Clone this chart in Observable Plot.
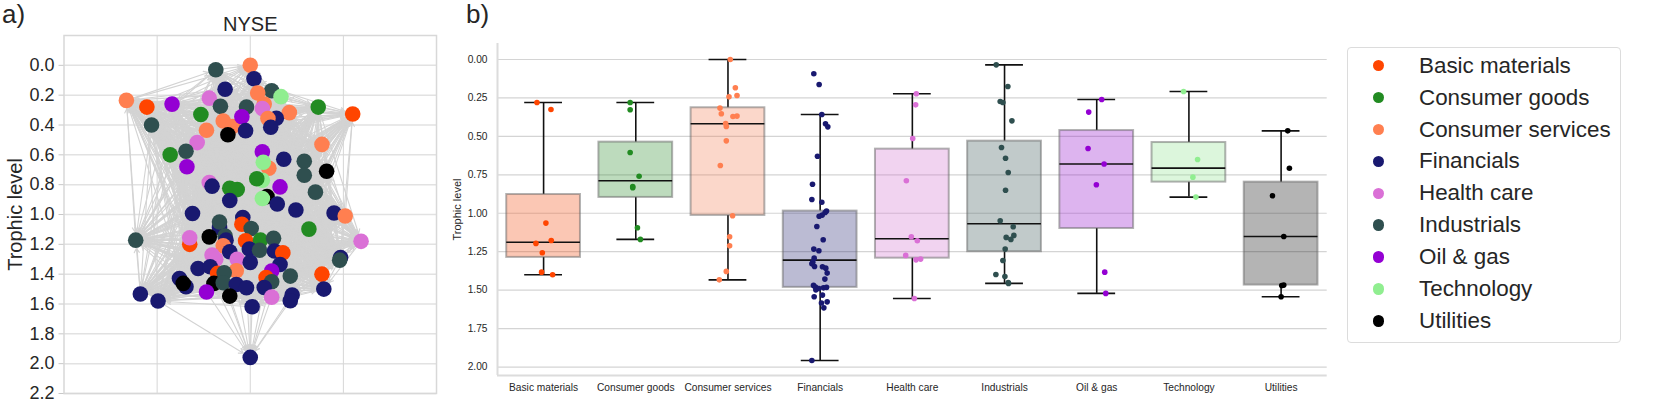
<!DOCTYPE html>
<html>
<head>
<meta charset="utf-8">
<script src="https://cdn.jsdelivr.net/npm/d3@7"></script>
<script src="https://cdn.jsdelivr.net/npm/@observablehq/plot@0.6"></script>
<style>
html,body{margin:0;padding:0;background:#fff;}
#page{position:relative;width:1659px;height:418px;overflow:hidden;font-family:"Liberation Sans",Arial,sans-serif;color:#262626;}
.panel{position:absolute;top:0;}
.tag{position:absolute;top:0px;font-size:26px;line-height:28px;}
#legend{position:absolute;left:1346.5px;top:47px;width:272px;height:293.5px;border:1px solid #dcdcdc;border-radius:4px;box-sizing:content-box;}
.row{position:absolute;left:0;height:32px;line-height:32px;font-size:22.4px;white-space:nowrap;}
.sw{position:absolute;left:25.5px;top:10.3px;width:11.4px;height:11.4px;border-radius:50%;}
.row span{position:absolute;left:71.5px;}
</style>
</head>
<body>
<div id="page">
  <div class="tag" style="left:2px">a)</div>
  <div class="tag" style="left:466px">b)</div>
  <div class="panel" id="left" style="left:0"></div>
  <div class="panel" id="right" style="left:445px"></div>
  <div id="legend"></div>
</div>
<script>
const sectors = ["Basic materials","Consumer goods","Consumer services","Financials","Health care","Industrials","Oil & gas","Technology","Utilities"];
const sectorColors = ["#FF4500","#228B22","#FF7F50","#191970","#DA70D6","#2F4F4F","#9400D3","#90EE90","#000000"];

// network panel: one entry per company, drawn in this order
const netSector = [2,5,3,3,5,2,7,2,0,6,4,5,5,2,4,2,1,0,1,5,2,2,6,3,2,3,3,2,8,4,5,1,6,2,6,3,5,5,8,2,7,7,1,4,3,1,1,6,5,8,7,3,3,3,3,2,
  3,3,0,3,5,5,1,5,4,0,4,8,5,3,2,0,1,5,3,5,3,0,3,4,4,4,3,3,3,5,2,3,3,0,5,6,0,5,0,5,3,3,8,8,5,3,3,3,3,3,3,6,8,4,3,3,3,3];
const netX = [0,-.37,.04,-.27,.23,.08,.33,-1.33,-1.11,-.84,-.44,-.32,-.04,.15,.13,.42,.73,1.10,-.53,-1.06,-.29,-.19,-.09,.28,.19,.22,-.05,-.47,-.24,-.57,-.69,-.86,-.68,.77,.13,.36,.58,.58,.82,.2,.14,.13,.07,-.44,-.41,-.22,-.14,.32,.70,.18,.13,-.22,.29,.49,.9,1.02,
  -.62,-.08,-.09,-.33,-.33,.01,.63,-1.23,1.19,-.65,-.65,-.44,-.27,-.26,-.29,-.05,.11,.25,-.01,.1,.26,.35,-.22,-.41,-.37,-.14,0,.32,.97,.96,-.15,-.56,-.43,-.35,-.28,.23,.77,.43,.17,.23,-.76,-.69,-.72,-.39,-.29,-.15,-.04,.15,.79,-1.18,-.99,-.47,-.22,.23,.45,.43,.02,0];
const netY = [0,.03,.09,.16,.17,.185,.21,.235,.28,.26,.22,.275,.28,.26,.29,.317,.28,.326,.33,.40,.373,.41,.345,.355,.357,.415,.438,.435,.465,.518,.576,.60,.68,.53,.58,.63,.643,.737,.71,.69,.65,.77,.76,.786,.81,.824,.833,.815,.85,.88,.893,.906,.93,.97,.99,1.01,
  .993,1.02,1.065,1.087,1.05,1.094,1.098,1.172,1.18,1.2,1.156,1.15,1.145,1.172,1.21,1.176,1.172,1.16,1.232,1.24,1.245,1.257,1.25,1.272,1.3,1.3,1.321,1.335,1.288,1.306,1.377,1.362,1.35,1.395,1.39,1.379,1.40,1.413,1.422,1.451,1.429,1.484,1.462,1.462,1.458,1.469,1.491,1.489,1.5,1.533,1.58,1.52,1.547,1.554,1.54,1.578,1.618,1.958];

// box statistics, one value per sector
const whiskerTop = [.28,.28,0,.358,.223,.035,.26,.208,.464];
const quartile1  = [.878,.5375,.314,.986,.583,.531,.462,.54,.7976];
const medians    = [1.188,.789,.418,1.305,1.166,1.068,.68,.7065,1.151];
const quartile3  = [1.287,.897,1.014,1.482,1.292,1.25,1.099,.7975,1.467];
const whiskerLow = [1.40,1.17,1.433,1.957,1.554,1.456,1.521,.895,1.543];

// strip points: horizontal jitter and trophic level per sector
const basicJitter = [-.072,.08,.025,-.083,.083,-.014,-.022,.098];
const basicLevel  = [.28,.325,1.064,1.196,1.177,1.257,1.383,1.40];
const goodsJitter = [-.061,-.061,-.061,.036,-.033,-.033,.018,.05];
const goodsLevel  = [.28,.327,.605,.759,.826,.834,1.094,1.17];
const servicesJitter = [.025,.08,.098,.011,-.087,-.072,.054,.098,-.025,-.018,-.018,-.083,.05,.018,.018,-.018,-.094];
const servicesLevel  = [0,.184,.234,.243,.316,.353,.371,.368,.416,.436,.529,.689,1.016,1.153,1.212,1.378,1.433];
const financeJitter = [-.069,-.011,.018,.058,.083,-.029,-.083,-.09,.018,.069,.054,.022,-.011,-.036,.033,-.069,-.014,-.065,-.08,-.09,-.061,.025,.061,.076,.051,-.072,-.051,-.047,-.014,.036,.069,-.065,.025,.014,.076,.04,-.09];
const financeLevel  = [.093,.163,.358,.418,.438,.629,.811,.91,.928,.986,.995,1.012,1.019,1.086,1.172,1.233,1.244,1.292,1.318,1.329,1.346,1.348,1.357,1.389,1.428,1.469,1.48,1.498,1.489,1.485,1.482,1.543,1.532,1.584,1.576,1.615,1.957];
const healthJitter = [.043,.036,.004,-.065,-.011,.054,-.072,.04,.09,.022];
const healthLevel  = [.223,.295,.514,.789,1.153,1.179,1.274,1.303,1.298,1.554];
const industryJitter = [-.09,.036,-.047,-.018,.08,-.033,.011,.04,.011,-.047,.094,.018,.101,.069,.007,-.018,-.094,.004,.04,.043];
const industryLevel  = [.035,.176,.273,.28,.399,.572,.642,.735,.85,1.049,1.088,1.157,1.144,1.17,1.233,1.307,1.398,1.411,1.45,1.456];
const oilJitter = [.054,-.087,-.094,.08,-.004,.087,.098];
const oilLevel  = [.26,.342,.579,.68,.815,1.383,1.521];
const techJitter = [-.058,.094,.043,.076];
const techLevel  = [.208,.65,.765,.895];
const utilJitter = [.072,.09,-.094,.029,.029,.007,0];
const utilLevel  = [.464,.707,.886,1.151,1.467,1.47,1.543];

const yTicksLeft = [0,.2,.4,.6,.8,1,1.2,1.4,1.6,1.8,2,2.2];
const yTicksRight = [0,.25,.5,.75,1,1.25,1.5,1.75,2];

const stripJitter = [basicJitter,goodsJitter,servicesJitter,financeJitter,healthJitter,industryJitter,oilJitter,techJitter,utilJitter];
const stripLevel = [basicLevel,goodsLevel,servicesLevel,financeLevel,healthLevel,industryLevel,oilLevel,techLevel,utilLevel];

const nodes = netX.map((x,i)=>({i,x,y:netY[i],sector:sectors[netSector[i]]}));
const edges = [];
for (const a of nodes) for (const b of nodes) {
  if (a.i>=b.i) continue;
  const top = a.y<.02, bottom = b.y>1.9;
  let keep;
  if (top) keep = b.y<.42 && b.x<.3;
  else if (bottom) keep = (a.y>1.45 && Math.abs(a.x)<.5) || a.x===-.99;
  else keep = Math.abs(a.y-b.y)<1.32 && (a.i*31+b.i*17)%2===0;
  if (keep) edges.push(bottom||top ? (bottom?{a,b}:{a:b,b:a}) : ((a.i*3+b.i)%4<2?{a,b}:{a:b,b:a}));
}

const font = '"Liberation Sans",Arial,sans-serif';
const colorScale = {domain:sectors,range:sectorColors};

const left = Plot.plot({
  width:445,height:418,
  marginLeft:63.5,marginRight:9,marginTop:35,marginBottom:25,
  style:{fontFamily:font,fontSize:"18px",color:"#262626",background:"transparent"},
  x:{domain:[-2,2]},
  y:{domain:[-.2,2.2],reverse:true},
  color:colorScale,
  marks:[
    Plot.ruleY(yTicksLeft,{stroke:"#e2e2e2",strokeWidth:1.5}),
    Plot.ruleX([-1,0,1],{stroke:"#d6d6d6",strokeWidth:1}),
    Plot.frame({stroke:"#d8d8d8",strokeWidth:1.5}),
    Plot.arrow(edges,{x1:d=>d.a.x,y1:d=>d.a.y,x2:d=>d.b.x,y2:d=>d.b.y,stroke:"#d3d3d3",strokeWidth:1.1,insetEnd:8,headLength:7}),
    Plot.dot(nodes,{x:"x",y:"y",fill:"sector",r:7.8}),
    Plot.axisY({ticks:yTicksLeft,tickFormat:d3.format(".1f"),tickSize:5,tickPadding:4.5,stroke:"#c8c8c8",label:null,fontSize:18}),
    Plot.axisX({ticks:[],label:null}),
    Plot.text(["Trophic level"],{frameAnchor:"left",rotate:-90,dx:-48,fontSize:20,fill:"#262626",textAnchor:"middle"}),
    Plot.text(["NYSE"],{frameAnchor:"top",dy:-19,fontSize:20,fill:"#262626",textAnchor:"middle"})
  ]
});
document.getElementById("left").append(left);

const indices = sectors.map((_,i)=>i);
const stats = indices.map(i=>({i,sector:sectors[i],top:whiskerTop[i],q1:quartile1[i],med:medians[i],q3:quartile3[i],low:whiskerLow[i]}));
const strip = indices.flatMap(i=>stripLevel[i].map((y,k)=>({x:i+stripJitter[i][k],y,sector:sectors[i]})));
const halfBox = .4, halfCap = .205;

const right = Plot.plot({
  width:885,height:418,
  marginLeft:52,marginRight:3.3,marginTop:43,marginBottom:43,
  style:{fontFamily:font,fontSize:"10.2px",color:"#262626",background:"transparent"},
  x:{domain:[-.5,8.5]},
  y:{domain:[-.104,2.055],reverse:true},
  color:colorScale,
  marks:[
    Plot.ruleY(yTicksRight,{stroke:"#d4d4d4",strokeWidth:1.2}),
    Plot.ruleX([-.5],{stroke:"#dcdcdc",strokeWidth:2}),
    Plot.ruleY([2.055],{stroke:"#dcdcdc",strokeWidth:2}),
    Plot.ruleX(stats,{x:"i",y1:"top",y2:"q1",stroke:"#111",strokeWidth:1.6}),
    Plot.ruleX(stats,{x:"i",y1:"q3",y2:"low",stroke:"#111",strokeWidth:1.6}),
    Plot.ruleY(stats,{y:"top",x1:d=>d.i-halfCap,x2:d=>d.i+halfCap,stroke:"#111",strokeWidth:1.6}),
    Plot.ruleY(stats,{y:"low",x1:d=>d.i-halfCap,x2:d=>d.i+halfCap,stroke:"#111",strokeWidth:1.6}),
    Plot.rect(stats,{x1:d=>d.i-halfBox,x2:d=>d.i+halfBox,y1:"q1",y2:"q3",fill:"#808080",fillOpacity:.04}),
    Plot.rect(stats,{x1:d=>d.i-halfBox,x2:d=>d.i+halfBox,y1:"q1",y2:"q3",fill:"sector",fillOpacity:.28,stroke:"#666",strokeOpacity:.5,strokeWidth:2}),
    Plot.ruleY(stats,{y:"med",x1:d=>d.i-halfBox,x2:d=>d.i+halfBox,stroke:"#111",strokeWidth:1.6}),
    Plot.dot(strip,{x:"x",y:"y",fill:"sector",r:2.8}),
    Plot.axisY({ticks:yTicksRight,tickFormat:d3.format(".2f"),tickSize:0,tickPadding:10,label:null,fontSize:10.2}),
    Plot.axisX({ticks:indices,tickFormat:i=>sectors[i],tickSize:0,tickPadding:8,label:null,fontSize:10.2}),
    Plot.text(["Trophic level"],{frameAnchor:"left",rotate:-90,dx:-40,fontSize:11,fill:"#262626",textAnchor:"middle"})
  ]
});
document.getElementById("right").append(right);

const legend = document.getElementById("legend");
sectors.forEach((s,i)=>{
  const row = document.createElement("div");
  row.className = "row";
  row.style.top = (1.7+i*31.9)+"px";
  const sw = document.createElement("div");
  sw.className = "sw";
  sw.style.background = sectorColors[i];
  const label = document.createElement("span");
  label.textContent = s;
  row.append(sw,label);
  legend.append(row);
});
</script>
</body>
</html>
